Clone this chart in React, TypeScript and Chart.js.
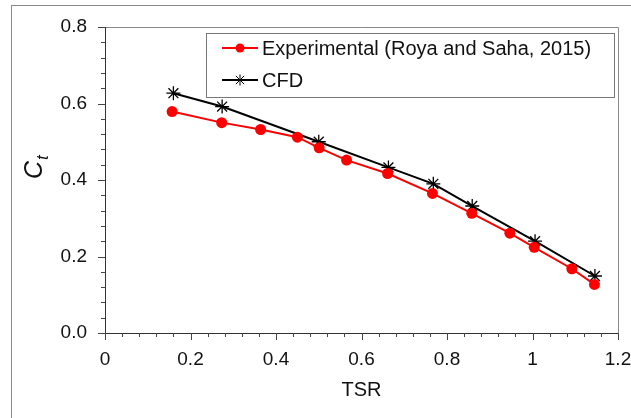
import React, { useEffect, useRef } from "react";
import { Chart, registerables } from "chart.js";

Chart.register(...registerables);

const expX = [0.157, 0.273, 0.364, 0.45, 0.501, 0.565, 0.661, 0.766, 0.858, 0.947, 1.004, 1.092, 1.145];
const expY = [0.579, 0.55, 0.532, 0.512, 0.484, 0.452, 0.417, 0.365, 0.313, 0.261, 0.224, 0.168, 0.127];
const cfdX = [0.16, 0.274, 0.5, 0.663, 0.768, 0.859, 1.006, 1.146];
const cfdY = [0.627, 0.592, 0.5, 0.433, 0.39, 0.332, 0.24, 0.149];
const legendLabels = ["Experimental (Roya and Saha, 2015)", "CFD"];
const xTitle = "TSR";

const FONT = "'Liberation Sans', Arial, sans-serif";

function drawMarker(ctx: CanvasRenderingContext2D, style: string, x: number, y: number, r: number, color: string) {
  ctx.save();
  if (style === "circle") {
    ctx.fillStyle = color;
    ctx.beginPath();
    ctx.arc(x, y, r, 0, Math.PI * 2);
    ctx.fill();
  } else {
    ctx.strokeStyle = color;
    ctx.lineWidth = 1;
    ctx.beginPath();
    ctx.moveTo(x - r, y);
    ctx.lineTo(x + r, y);
    ctx.moveTo(x, y - r);
    ctx.lineTo(x, y + r);
    const d = r * 0.75;
    ctx.moveTo(x - d, y - d);
    ctx.lineTo(x + d, y + d);
    ctx.moveTo(x - d, y + d);
    ctx.lineTo(x + d, y - d);
    ctx.stroke();
  }
  ctx.restore();
}

const decorPlugin = {
  id: "decor",
  beforeDraw(chart: any) {
    const ctx = chart.ctx;
    ctx.save();
    ctx.fillStyle = "#fff";
    ctx.fillRect(0, 0, chart.width, chart.height);
    ctx.strokeStyle = "#8a8a8a";
    ctx.lineWidth = 1;
    ctx.strokeRect(11.5, 5.5, 800, 600);
    ctx.restore();
  },
  afterDraw(chart: any) {
    const ctx = chart.ctx;
    const a = chart.chartArea;
    const xs = chart.scales.x;
    const ys = chart.scales.y;
    ctx.save();
    ctx.strokeStyle = "#8a8a8a";
    ctx.lineWidth = 1;
    ctx.beginPath();
    ctx.moveTo(a.left, a.top + 0.5);
    ctx.lineTo(a.right + 0.5, a.top + 0.5);
    ctx.lineTo(a.right + 0.5, a.bottom);
    ctx.stroke();
    ctx.strokeStyle = "#333";
    ctx.beginPath();
    ctx.moveTo(a.left + 0.5, a.top);
    ctx.lineTo(a.left + 0.5, a.bottom + 0.5);
    ctx.lineTo(a.right + 1, a.bottom + 0.5);
    ctx.stroke();
    ctx.strokeStyle = "#444";
    ctx.beginPath();
    for (let i = 0; i <= 30; i++) {
      const px = Math.round(xs.getPixelForValue(i * 0.04)) + 0.5;
      const len = i % 5 === 0 ? 7 : 4;
      ctx.moveTo(px, a.bottom);
      ctx.lineTo(px, a.bottom + len);
    }
    for (let i = 0; i <= 20; i++) {
      const py = Math.round(ys.getPixelForValue(i * 0.04)) + 0.5;
      const len = i % 5 === 0 ? 7 : 4;
      ctx.moveTo(a.left, py);
      ctx.lineTo(a.left - len, py);
    }
    ctx.stroke();

    ctx.fillStyle = "#111";
    ctx.translate(42, 179);
    ctx.rotate(-Math.PI / 2);
    ctx.textBaseline = "alphabetic";
    ctx.textAlign = "left";
    ctx.font = `italic 25px ${FONT}`;
    ctx.fillText("C", 0, 0);
    const cw = ctx.measureText("C").width;
    ctx.font = `italic 17px ${FONT}`;
    ctx.fillText("t", cw + 1, 6);
    ctx.restore();

    ctx.save();
    ctx.fillStyle = "#fff";
    ctx.fillRect(207, 34, 408, 63);
    ctx.strokeStyle = "#777";
    ctx.lineWidth = 1;
    ctx.strokeRect(206.5, 33.5, 408, 64);
    const rows = [
      { y: 48, color: "#ff0000", style: "circle", r: 4.5 },
      { y: 80, color: "#000000", style: "star", r: 5.5 },
    ];
    rows.forEach((row, i) => {
      ctx.strokeStyle = row.color;
      ctx.lineWidth = 2;
      ctx.beginPath();
      ctx.moveTo(222, row.y);
      ctx.lineTo(258, row.y);
      ctx.stroke();
      drawMarker(ctx, row.style, 240, row.y, row.r, row.color);
      ctx.fillStyle = "#111";
      ctx.font = `20px ${FONT}`;
      ctx.textBaseline = "middle";
      ctx.textAlign = "left";
      ctx.fillText(legendLabels[i], 262, row.y + 1);
    });
    ctx.restore();
  },
};

export default function App() {
  const ref = useRef<HTMLCanvasElement>(null);
  useEffect(() => {
    if (!ref.current) return;
    const chart = new Chart(ref.current, {
      type: "line",
      data: {
        datasets: [
          {
            label: legendLabels[0],
            data: expX.map((x, i) => ({ x, y: expY[i] })),
            borderColor: "#ff0000",
            backgroundColor: "#ff0000",
            borderWidth: 2,
            pointStyle: "circle",
            pointRadius: 5.5,
            pointBorderWidth: 0,
            tension: 0,
          },
          {
            label: legendLabels[1],
            data: cfdX.map((x, i) => ({ x, y: cfdY[i] })),
            borderColor: "#000000",
            backgroundColor: "#000000",
            borderWidth: 2,
            pointStyle: "star",
            pointRadius: 7,
            pointBorderWidth: 1.3,
            tension: 0,
          },
        ],
      },
      options: {
        responsive: false,
        animation: false,
        layout: { padding: { top: 27, right: 13, left: 0, bottom: 0 } },
        plugins: { legend: { display: false }, tooltip: { enabled: false } },
        scales: {
          x: {
            type: "linear",
            min: 0,
            max: 1.2,
            grid: { display: true, drawOnChartArea: false, drawTicks: false },
            border: { display: false },
            ticks: {
              stepSize: 0.2,
              padding: 15,
              color: "#111",
              font: { family: FONT, size: 19 },
              callback: (v: any) => String(Number(Number(v).toFixed(1))),
              maxRotation: 0,
            },
            title: {
              display: true,
              text: xTitle,
              color: "#111",
              font: { family: FONT, size: 20 },
              padding: { top: 4, bottom: 16 },
            },
            afterFit: (s: any) => {
              s.height = 85;
              s.paddingLeft = 0;
              s.paddingRight = 0;
              s.paddingTop = 0;
              s.paddingBottom = 0;
            },
          },
          y: {
            type: "linear",
            min: 0,
            max: 0.8,
            grid: { display: true, drawOnChartArea: false, drawTicks: false },
            border: { display: false },
            ticks: {
              stepSize: 0.2,
              padding: 18,
              color: "#111",
              font: { family: FONT, size: 19 },
              callback: (v: any) => Number(v).toFixed(1),
            },
            afterFit: (s: any) => {
              s.width = 105;
              s.paddingLeft = 0;
              s.paddingRight = 0;
              s.paddingTop = 0;
              s.paddingBottom = 0;
            },
          },
        },
      },
      plugins: [decorPlugin],
    } as any);
    return () => chart.destroy();
  }, []);
  return (
    <div style={{ position: "absolute", left: 0, top: 0, width: 631, height: 418, background: "#fff" }}>
      <canvas ref={ref} width={631} height={418} style={{ width: 631, height: 418, display: "block" }} />
    </div>
  );
}
